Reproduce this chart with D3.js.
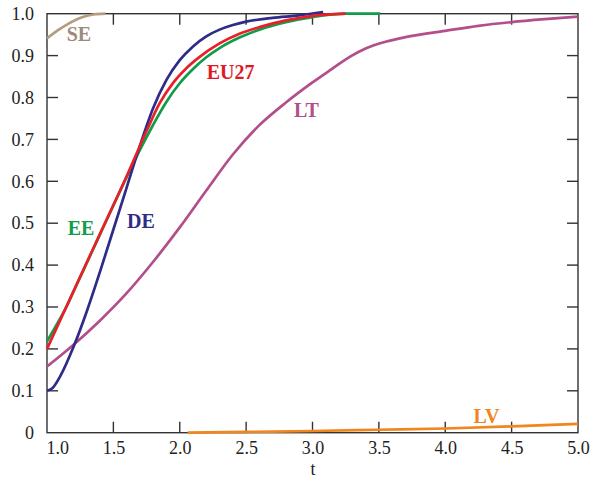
<!DOCTYPE html>
<html>
<head>
<meta charset="utf-8">
<script src="https://cdn.jsdelivr.net/npm/d3@7"></script>
<style>
  html, body { margin: 0; padding: 0; background: #fff; }
  svg { display: block; }
  text { font-family: "Liberation Serif", "DejaVu Serif", serif; }
</style>
</head>
<body>
<svg id="chart" width="590" height="481"></svg>
<script>
// ---- data ----
const xTicks = [1.0, 1.5, 2.0, 2.5, 3.0, 3.5, 4.0, 4.5, 5.0];
const xTickLabels = ["1.0", "1.5", "2.0", "2.5", "3.0", "3.5", "4.0", "4.5", "5.0"];
const yTicks = [0, 0.1, 0.2, 0.3, 0.4, 0.5, 0.6, 0.7, 0.8, 0.9, 1.0];
const yTickLabels = ["0", "0.1", "0.2", "0.3", "0.4", "0.5", "0.6", "0.7", "0.8", "0.9", "1.0"];
const xTitle = "t";

const seriesNames = ["LT", "LV", "SE", "EE", "DE", "EU27"];

const LT = [[1.0,0.158],[1.2,0.21],[1.4,0.268],[1.6,0.333],[1.8,0.408],[2.0,0.49],[2.2,0.578],[2.4,0.664],[2.6,0.734],[2.8,0.788],[3.0,0.836],[3.15,0.869],[3.28,0.897],[3.4,0.917],[3.55,0.933],[3.7,0.944],[4.0,0.959],[4.25,0.971],[4.5,0.980],[4.75,0.987],[5.0,0.993]];
const LV = [[2.06,0.0],[2.5,0.002],[3.0,0.004],[3.5,0.007],[4.0,0.010],[4.5,0.015],[5.0,0.021]];
const SE = [[1.0,0.941],[1.08,0.96],[1.15,0.974],[1.27,0.992],[1.35,0.998],[1.44,1.0]];
const EE = [[1.0,0.218],[1.08,0.262],[1.15,0.303],[1.2,0.337],[1.4,0.474],[1.6,0.61],[1.7,0.675],[1.8,0.735],[1.9,0.79],[2.0,0.834],[2.1,0.868],[2.2,0.896],[2.3,0.918],[2.45,0.943],[2.6,0.962],[2.8,0.980],[3.0,0.992],[3.25,1.0],[3.51,1.0]];
const DE = [[1.0,0.100],[1.04,0.106],[1.1,0.135],[1.2,0.205],[1.3,0.29],[1.4,0.385],[1.5,0.485],[1.6,0.585],[1.7,0.685],[1.8,0.775],[1.9,0.842],[2.0,0.889],[2.1,0.922],[2.2,0.946],[2.3,0.962],[2.4,0.973],[2.5,0.981],[2.7,0.990],[2.9,0.996],[3.08,1.004]];
const EU27 = [[1.0,0.20],[1.2,0.338],[1.4,0.475],[1.6,0.612],[1.75,0.72],[1.85,0.787],[1.95,0.835],[2.05,0.870],[2.15,0.897],[2.3,0.929],[2.45,0.952],[2.6,0.968],[2.8,0.984],[3.0,0.995],[3.25,1.0]];

// label anchor points (data coords)
const labelPos = { SE:[1.24,0.935], EU27:[2.383,0.844], LT:[2.955,0.754], EE:[1.256,0.472], DE:[1.707,0.489], LV:[4.31,0.024] };

// ---- styles ----
const lineColors = { LT:"#b24f8b", LV:"#f0861c", SE:"#b49c7e", EE:"#119c4a", DE:"#2e2c86", EU27:"#e8202a" };
const labelColors = { LT:"#b24f8b", LV:"#f0861c", SE:"#9e8a7c", EE:"#119c4a", DE:"#2e2c86", EU27:"#e01a24" };
const seriesData = { LT, LV, SE, EE, DE, EU27 };

const W = 590, H = 481;
const margin = { left: 47, right: 12, top: 13.7, bottom: 48.3 };
const svg = d3.select("#chart");

const x = d3.scaleLinear().domain([1, 5]).range([margin.left, W - margin.right]);
const y = d3.scaleLinear().domain([0, 1]).range([H - margin.bottom, margin.top]);

const axisColor = "#333";
const tickLen = 11;

// frame
svg.append("rect")
  .attr("x", x(1)).attr("y", y(1))
  .attr("width", x(5) - x(1)).attr("height", y(0) - y(1))
  .attr("fill", "none").attr("stroke", axisColor).attr("stroke-width", 1.4);

const innerX = xTicks.filter(d => d > 1 && d < 5);
const innerY = yTicks.filter(d => d > 0 && d < 1);

const bottom = svg.append("g").attr("transform", `translate(0,${y(0)})`)
  .call(d3.axisBottom(x).tickValues(xTicks).tickSize(0).tickPadding(9)
    .tickFormat((d, i) => xTickLabels[i]));
bottom.select(".domain").remove();
bottom.selectAll("text").attr("font-size", 18).attr("fill", "#222")
  .attr("font-family", "Liberation Serif, serif");
bottom.selectAll("text").filter((d) => d === 1).attr("text-anchor", "start").attr("dx", -1);

const left = svg.append("g").attr("transform", `translate(${x(1)},0)`)
  .call(d3.axisLeft(y).tickValues(yTicks).tickSize(0).tickPadding(13)
    .tickFormat((d, i) => yTickLabels[i]));
left.select(".domain").remove();
left.selectAll("text").attr("font-size", 18).attr("fill", "#222")
  .attr("font-family", "Liberation Serif, serif");

// inward tick marks on all four sides
const ticks = svg.append("g").attr("stroke", axisColor).attr("stroke-width", 1.4);
innerX.forEach(d => {
  ticks.append("line").attr("x1", x(d)).attr("x2", x(d)).attr("y1", y(0)).attr("y2", y(0) - tickLen);
  ticks.append("line").attr("x1", x(d)).attr("x2", x(d)).attr("y1", y(1)).attr("y2", y(1) + tickLen);
});
innerY.forEach(d => {
  ticks.append("line").attr("x1", x(1)).attr("x2", x(1) + tickLen).attr("y1", y(d)).attr("y2", y(d));
  ticks.append("line").attr("x1", x(5)).attr("x2", x(5) - tickLen).attr("y1", y(d)).attr("y2", y(d));
});

// axis title
svg.append("text").attr("x", (x(1) + x(5)) / 2 + 0.5).attr("y", 475)
  .attr("text-anchor", "middle").attr("font-size", 18).attr("fill", "#222").text(xTitle);

// lines
const line = d3.line().x(d => x(d[0])).y(d => y(d[1])).curve(d3.curveMonotoneX);
seriesNames.forEach(name => {
  svg.append("path").datum(seriesData[name])
    .attr("d", line)
    .attr("fill", "none")
    .attr("stroke", lineColors[name])
    .attr("stroke-width", 2.7)
    .attr("stroke-linecap", "butt")
    .attr("stroke-linejoin", "round");
});

// labels
seriesNames.forEach(name => {
  const p = labelPos[name];
  svg.append("text")
    .attr("x", x(p[0])).attr("y", y(p[1]))
    .attr("text-anchor", "middle")
    .attr("font-size", 20).attr("font-weight", "bold")
    .attr("fill", labelColors[name])
    .text(name);
});
</script>
</body>
</html>
